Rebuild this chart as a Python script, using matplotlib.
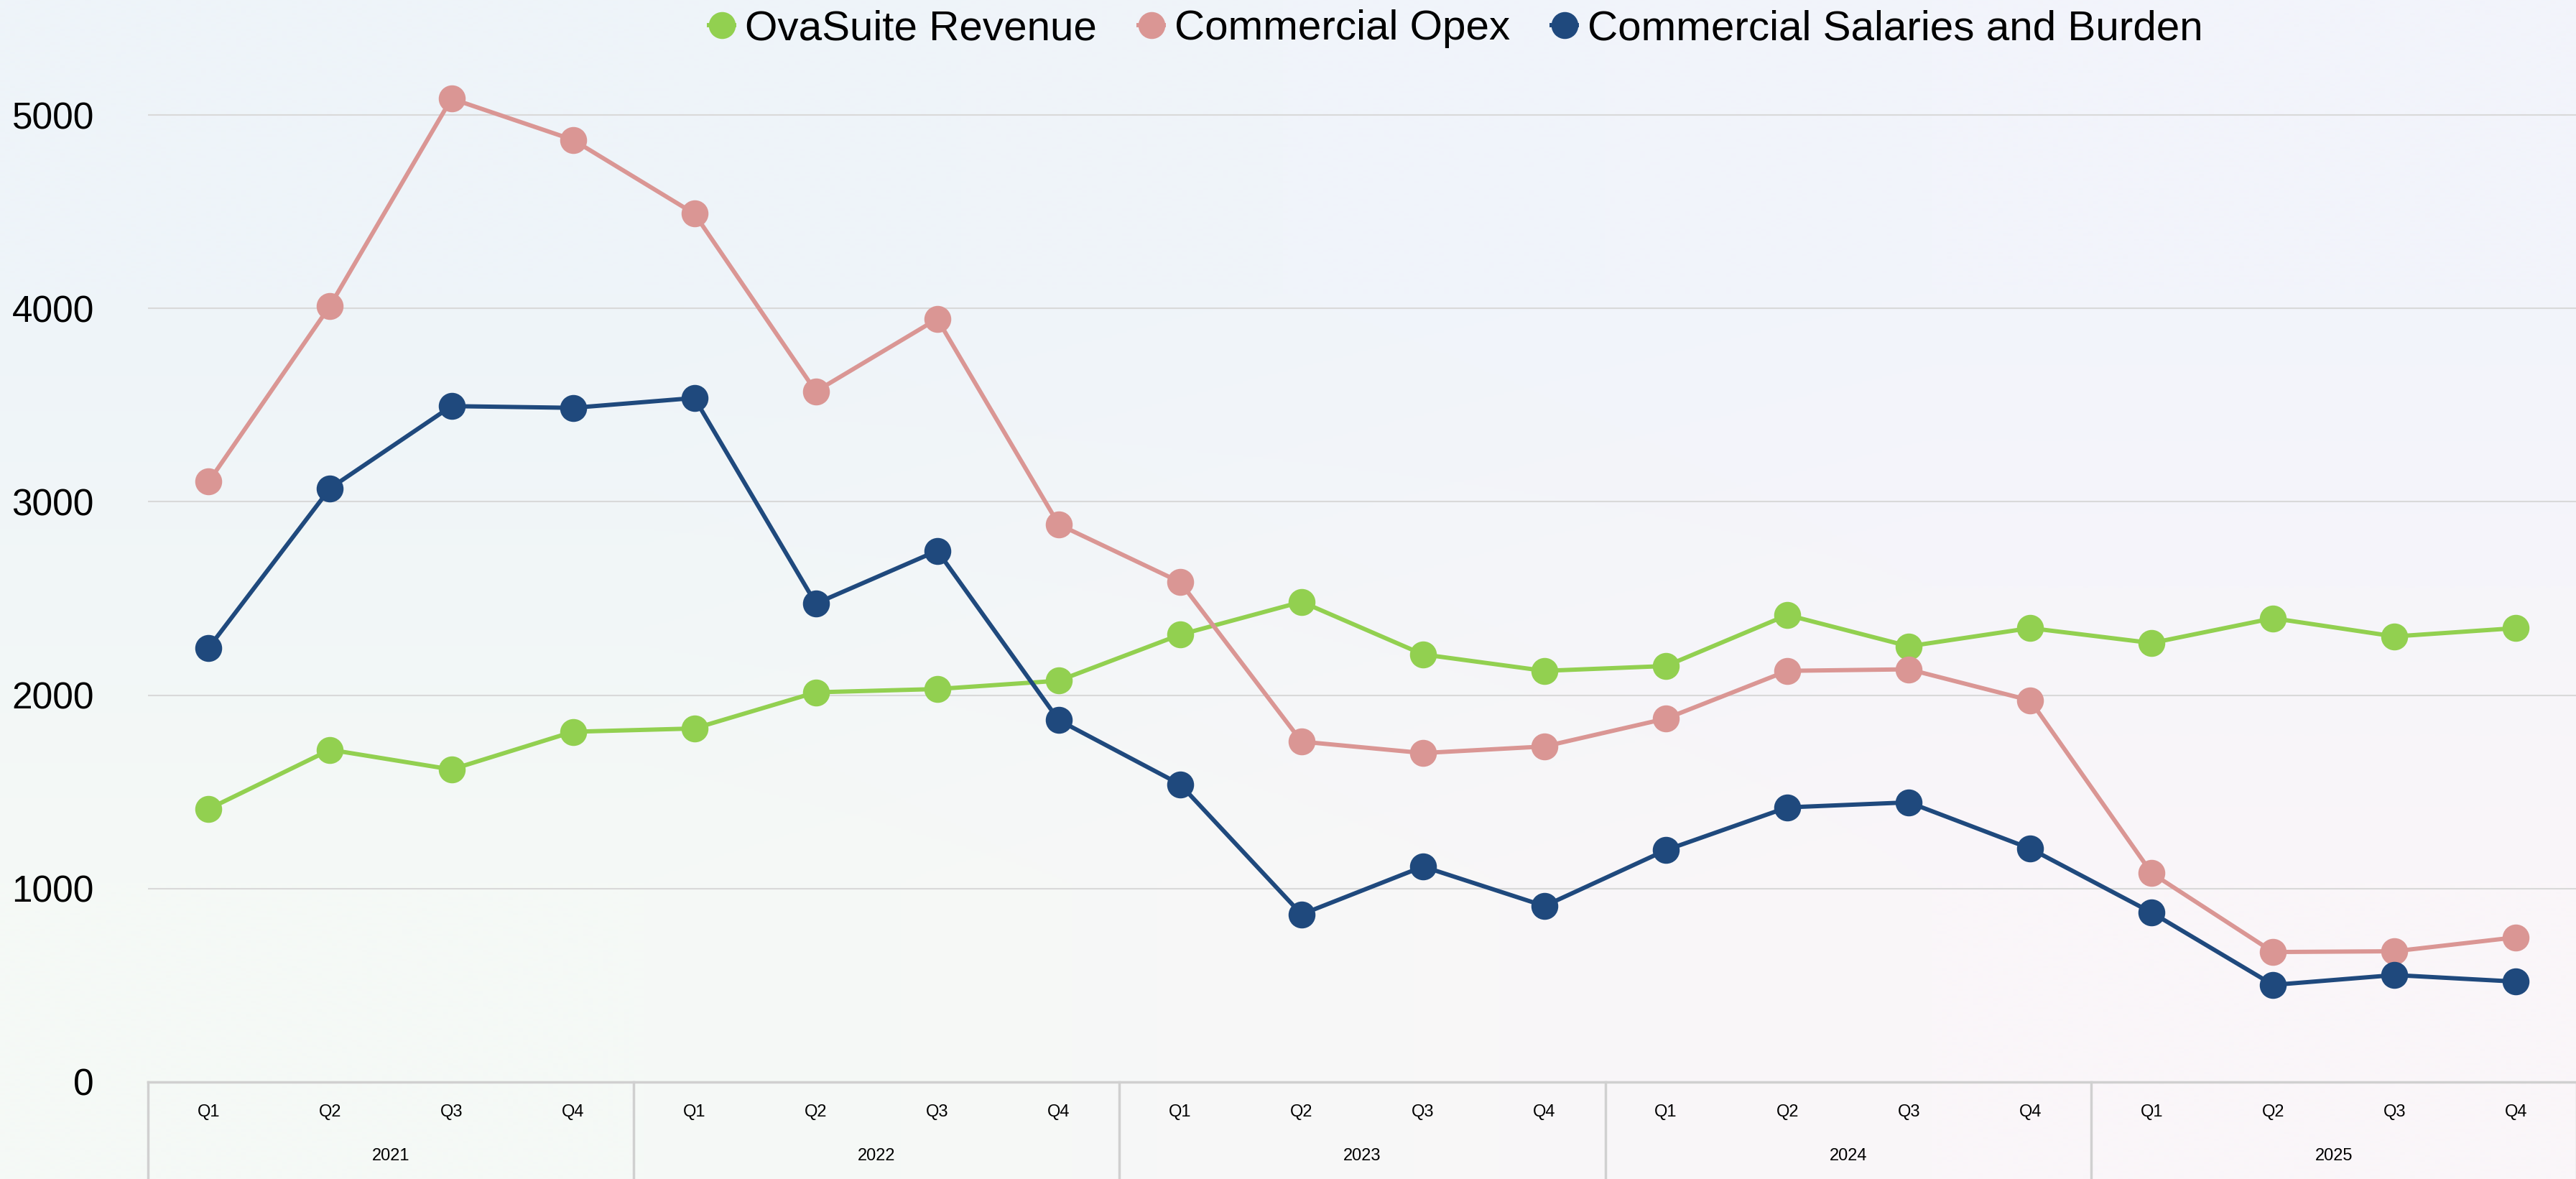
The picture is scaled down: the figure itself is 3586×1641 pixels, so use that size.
#!/usr/bin/python3

# quarterly revenue vs commercial costs, 2021-2025
# output: out.png in current working directory

import numpy as np
import matplotlib
matplotlib.use('Agg')
import matplotlib.pyplot as plt
from matplotlib.colors import to_rgb

years = ['2021', '2022', '2023', '2024', '2025']
quarters = ['Q1', 'Q2', 'Q3', 'Q4']

revenue = [1412, 1718, 1616, 1811, 1828, 2015, 2032, 2075, 2313, 2483,
           2211, 2126, 2151, 2415, 2253, 2347, 2270, 2398, 2304, 2347]
opex = [3104, 4014, 5085, 4872, 4490, 3571, 3946, 2883, 2585, 1760,
        1701, 1735, 1879, 2126, 2134, 1973, 1080, 672, 676, 748]
salaries = [2245, 3070, 3495, 3486, 3537, 2474, 2747, 1871, 1539, 867,
            1114, 910, 1199, 1420, 1446, 1207, 876, 502, 553, 519]

series_names = ['OvaSuite Revenue', 'Commercial Opex', 'Commercial Salaries and Burden']
series_colors = ['#92D050', '#DA9694', '#1F497D']

plt.rcParams['font.family'] = ['Liberation Sans', 'DejaVu Sans']

W, H = 3587, 1641
fig = plt.figure(figsize=(W / 100, H / 100), dpi=100)

# very light 4-corner background gradient
bg = fig.add_axes([0, 0, 1, 1], zorder=-10)
corners = np.array([[to_rgb('#EEF4F9'), to_rgb('#F2F4FB')],
                    [to_rgb('#F5F9F6'), to_rgb('#FAF6F9')]])
bg.imshow(corners, interpolation='bilinear', aspect='auto', extent=[0, 1, 0, 1])
bg.set_axis_off()

left = 90 / 1568
bottom = 1 - 658 / 717
ax = fig.add_axes([left, bottom, 1 - left, 1 - bottom])
ax.patch.set_alpha(0)

n = len(years) * len(quarters)
x = np.arange(n)
for vals, name, col in zip([revenue, opex, salaries], series_names, series_colors):
    ax.plot(x, vals, color=col, lw=4.3, marker='o', ms=26, mec=col, mfc=col,
            label=name, zorder=3)

ax.set_xlim(-0.5, n - 0.5)
ax.set_ylim(0, 5595)
ax.set_yticks([0, 1000, 2000, 3000, 4000, 5000])
ax.tick_params(axis='y', length=0, pad=54, labelsize=37)
ax.set_xticks([])
ax.grid(axis='y', color='#D9D9D9', lw=1.5)
ax.set_axisbelow(True)
for s in ax.spines.values():
    s.set_visible(False)

# category box below the plot: quarters and years
cat = fig.add_axes([left, 0, 1 - left, bottom])
cat.patch.set_alpha(0)
cat.set_xlim(-0.5, n - 0.5)
cat.set_ylim(0, 1)
cat.set_axis_off()
cat.axhline(1, color='#D0D0D0', lw=2.5, clip_on=False)
for b in np.arange(len(years) + 1) * len(quarters) - 0.5:
    cat.axvline(b, color='#D0D0D0', lw=2.5, clip_on=False)
for i in range(n):
    cat.text(i, 0.69, quarters[i % 4], ha='center', va='center', fontsize=17)
for j, yr in enumerate(years):
    cat.text(j * 4 + 1.5, 0.24, yr, ha='center', va='center', fontsize=17)

fig.legend(loc='upper center', bbox_to_anchor=(886 / 1568, 1.006), ncol=3,
           frameon=False, fontsize=42, handlelength=0.6, handletextpad=0.25,
           columnspacing=1.0, markerscale=1.0, borderaxespad=0)

fig.savefig('out.png', dpi=100)
